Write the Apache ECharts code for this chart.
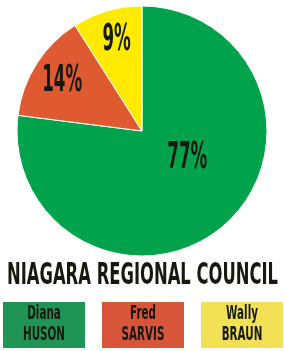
<!DOCTYPE html>
<html>
<head>
<meta charset="utf-8">
<script src="https://cdn.jsdelivr.net/npm/echarts@6/dist/echarts.min.js"></script>
<style>
html,body{margin:0;padding:0;background:#fff;}
#c{width:284px;height:351px;}
</style>
</head>
<body>
<div id="c"></div>
<script>
var firstNames = ['Diana', 'Fred', 'Wally'];
var lastNames = ['HUSON', 'SARVIS', 'BRAUN'];
var shares = [77, 14, 9];
var title = 'NIAGARA REGIONAL COUNCIL';

var sliceColors = ['#00a24b', '#e05a31', '#ffea00'];
var boxColors = ['#1f9455', '#d9553a', '#f2e055'];
var labelOffsets = [[4, -19.5], [-27, -16.5], [-8, -30.5]];
var FAMILY = '"DejaVu Sans", sans-serif';
var TEXT_COLOR = '#15190f';

var chart = echarts.init(document.getElementById('c'), null, {renderer: 'canvas'});

chart.setOption({
  animation: false,
  series: [{
    type: 'pie',
    center: [142, 131],
    radius: 125,
    startAngle: 90,
    clockwise: true,
    data: shares.map(function (v, i) {
      return {name: lastNames[i], value: v, itemStyle: {color: sliceColors[i]}};
    }),
    itemStyle: {borderColor: '#ffffff', borderWidth: 1},
    label: {show: false},
    labelLine: {show: false},
    emphasis: {disabled: true}
  }]
});

var ctx = document.createElement('canvas').getContext('2d');
function widthOf(str, font) { ctx.font = font; return ctx.measureText(str).width; }

// condensed text helper: scales horizontally so that `ref` has width `target`
function condensedText(str, x, y, size, ref, target, lh) {
  var font = 'bold ' + size + 'px ' + FAMILY;
  var s = target / widthOf(ref, font);
  return {
    type: 'text',
    x: x, y: y,
    scaleX: s, scaleY: 1,
    silent: true,
    style: {
      text: str, x: 0, y: 0,
      font: font,
      fill: TEXT_COLOR,
      align: 'center',
      verticalAlign: 'middle',
      lineHeight: lh || size
    },
    z: 100
  };
}

var graphics = [];
// percentage labels, placed from the pie's own layout
var data = chart.getModel().getSeriesByIndex(0).getData();
for (var i = 0; i < shares.length; i++) {
  var lay = data.getItemLayout(i);
  var mid = (lay.startAngle + lay.endAngle) / 2;
  var rr = (lay.r + (lay.r0 || 0)) / 2;
  var lx = lay.cx + rr * Math.cos(mid) + labelOffsets[i][0];
  var ly = lay.cy + rr * Math.sin(mid) + labelOffsets[i][1];
  graphics.push(condensedText(shares[i] + '%', lx, ly, 37, '77%', 40));
}

graphics.push(condensedText(title, 142.5, 276.5, 30, title, 271));

var boxLefts = [3, 102, 201];
for (var j = 0; j < 3; j++) {
  graphics.push({
    type: 'rect',
    x: boxLefts[j], y: 302,
    shape: {width: 82, height: 46},
    style: {fill: boxColors[j]},
    silent: true
  });
  graphics.push(condensedText(firstNames[j] + '\n' + lastNames[j],
    boxLefts[j] + 41, 324.5, 19, 'HUSON', 42, 21));
}

chart.setOption({graphic: graphics});
</script>
</body>
</html>
